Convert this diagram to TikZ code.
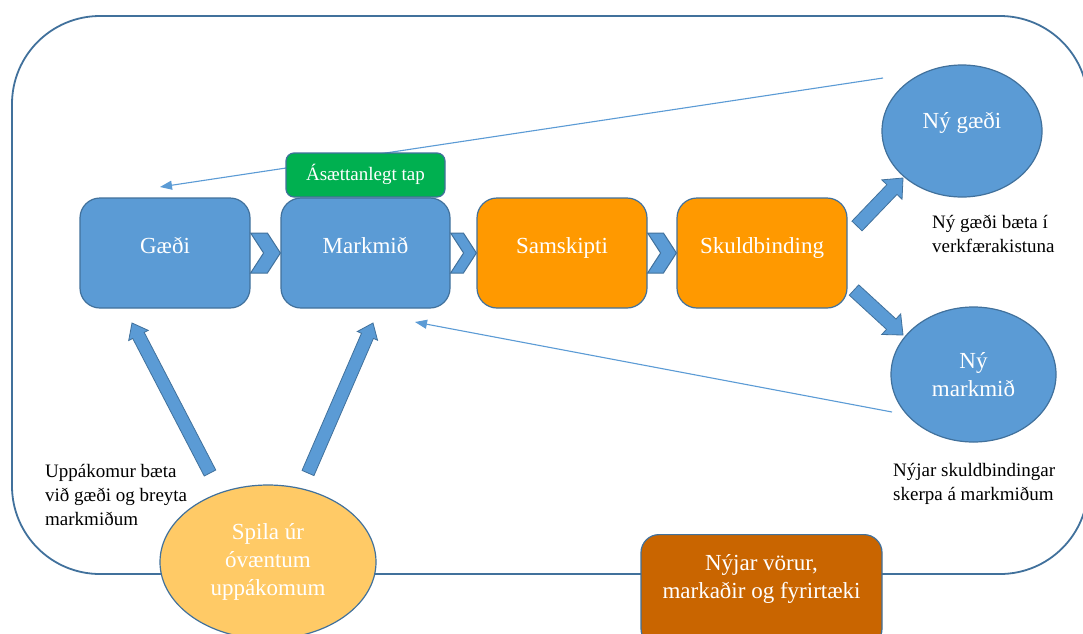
\documentclass[tikz,border=0pt]{standalone}
\usepackage{fontspec}
\setmainfont{Liberation Serif}
\usetikzlibrary{shapes.geometric,calc,arrows.meta}
\definecolor{bfill}{HTML}{5B9BD5}
\definecolor{bline}{HTML}{41719C}
\definecolor{ofill}{HTML}{FF9900}
\definecolor{gfill}{HTML}{00B050}
\definecolor{yfill}{HTML}{FFCA66}
\definecolor{brfill}{HTML}{C96500}
\newcommand\blockarr[5]{%
  \path coordinate (baB) at ($(#2)!#5!(#1)$);
  \draw[blockarrow] ($(#1)!#3!90:(#2)$) -- ($(baB)!#3!90:(#2)$) -- ($(baB)!#4!90:(#2)$) -- (#2)
    -- ($(baB)!#4!-90:(#2)$) -- ($(baB)!#3!-90:(#2)$) -- ($(#1)!#3!-90:(#2)$) -- cycle;}
\newcommand\chevron[2]{%
  \draw[chev] ($(#1.east)+(0,-20)$) -- ($(#2.west)+(-13,-20)$) -- (#2.west)
    -- ($(#2.west)+(-13,20)$) -- ($(#1.east)+(0,20)$) -- ($(#1.east)+(13,0)$) -- cycle;}
\begin{document}
\begin{tikzpicture}[x=1pt,y=-1pt,
  bigtext/.style={font=\fontsize{23}{28}\selectfont},
  smalltext/.style={font=\fontsize{19}{24}\selectfont},
  stagebox/.style={rectangle, rounded corners=20pt, draw=bline, line width=1.2pt,
    minimum width=170pt, minimum height=110pt, inner sep=0pt, text=white,
    text height=10pt, text depth=10pt, bigtext},
  bluebox/.style={stagebox, fill=bfill},
  orangebox/.style={stagebox, fill=ofill},
  bubble/.style={ellipse, draw=bline, line width=1.2pt, inner sep=0pt, text=white,
    align=center, bigtext},
  caption/.style={smalltext, align=left, anchor=west, inner sep=0pt, text=black},
  chev/.style={fill=bfill, draw=bline, line width=1pt, line join=miter},
  blockarrow/.style={fill=bfill, draw=bline, line width=0.8pt, line join=miter},
  thinarrow/.style={draw=bfill, line width=1.1pt, -{Triangle[length=12pt,width=9pt]}},
  frame/.style={draw=bline, line width=1.8pt, rounded corners=88pt}
]
\useasboundingbox (0,0) rectangle (1083,633);
\clip (0,0) rectangle (1083,633);
\fill[white] (0,0) rectangle (1083,633);

% outer frame
\draw[frame] (12,16) rectangle (1088,574);

% free coordinates of connectors
\coordinate (t1s) at (883,78);
\coordinate (t1e) at (160,187);
\coordinate (t2s) at (892,412);
\coordinate (t2e) at (415,322);
\coordinate (u1s) at (210,473);
\coordinate (u1e) at (132,323);
\coordinate (u2s) at (308,473);
\coordinate (u2e) at (373,323);
\coordinate (r1s) at (857,226);
\coordinate (r1e) at (903,178);
\coordinate (r2s) at (854,290);
\coordinate (r2e) at (903,335);

% thin feedback arrows
\draw[thinarrow] (t1s) -- (t1e);
\draw[thinarrow] (t2s) -- (t2e);

% stage boxes
\node[bluebox] (g) at (165,253) {Gæði};
\node[bluebox, minimum width=169pt] (m) at (365.5,253) {Markmið};
\node[orangebox] (s) at (562,253) {Samskipti};
\node[orangebox] (k) at (762,253) {Skuldbinding};

\chevron{g}{m}
\chevron{m}{s}
\chevron{s}{k}

% green label box
\node[rectangle, rounded corners=8pt, draw=bline, line width=1.2pt, fill=gfill,
  minimum width=159pt, minimum height=44pt, inner sep=0pt, text=white, smalltext,
  text height=14pt, text depth=4pt] (tap) at (365.5,175) {Ásættanlegt tap};

% block arrows
\blockarr{u1s}{u1e}{6.5pt}{11pt}{14pt}
\blockarr{u2s}{u2e}{6.5pt}{11pt}{14pt}
\blockarr{r1s}{r1e}{7pt}{14pt}{16pt}
\blockarr{r2s}{r2e}{7pt}{14pt}{16pt}

% ellipses
\node[bubble, fill=bfill, minimum width=160pt, minimum height=132pt,
  text height=10pt, text depth=16pt] (ng) at (962,131) {Ný gæði};
\node[bubble, fill=bfill, minimum width=165pt, minimum height=135pt] (nm) at (973.5,374.5) {Ný\\markmið};
\node[bubble, fill=yfill, minimum width=216pt, minimum height=154pt] (sp) at (268,562) {Spila úr\\óvæntum\\uppákomum};

% new products box
\node[rectangle, rounded corners=18pt, draw=bline, line width=1.2pt, fill=brfill,
  minimum width=241pt, minimum height=112pt, inner sep=0pt, anchor=north] (nv) at (761.5,534) {};
\node[bigtext, text=white, align=center, inner sep=0pt] (nvt) at (761.5,578.5) {Nýjar vörur,\\markaðir og fyrirtæki};

% captions
\node[caption] (c1) at (45,495) {Uppákomur bæta\\við gæði og breyta\\markmiðum};
\node[caption] (c2) at (932,234) {Ný gæði bæta í\\verkfærakistuna};
\node[caption] (c3) at (893,484) {Nýjar skuldbindingar\\skerpa á markmiðum};
\end{tikzpicture}
\end{document}
